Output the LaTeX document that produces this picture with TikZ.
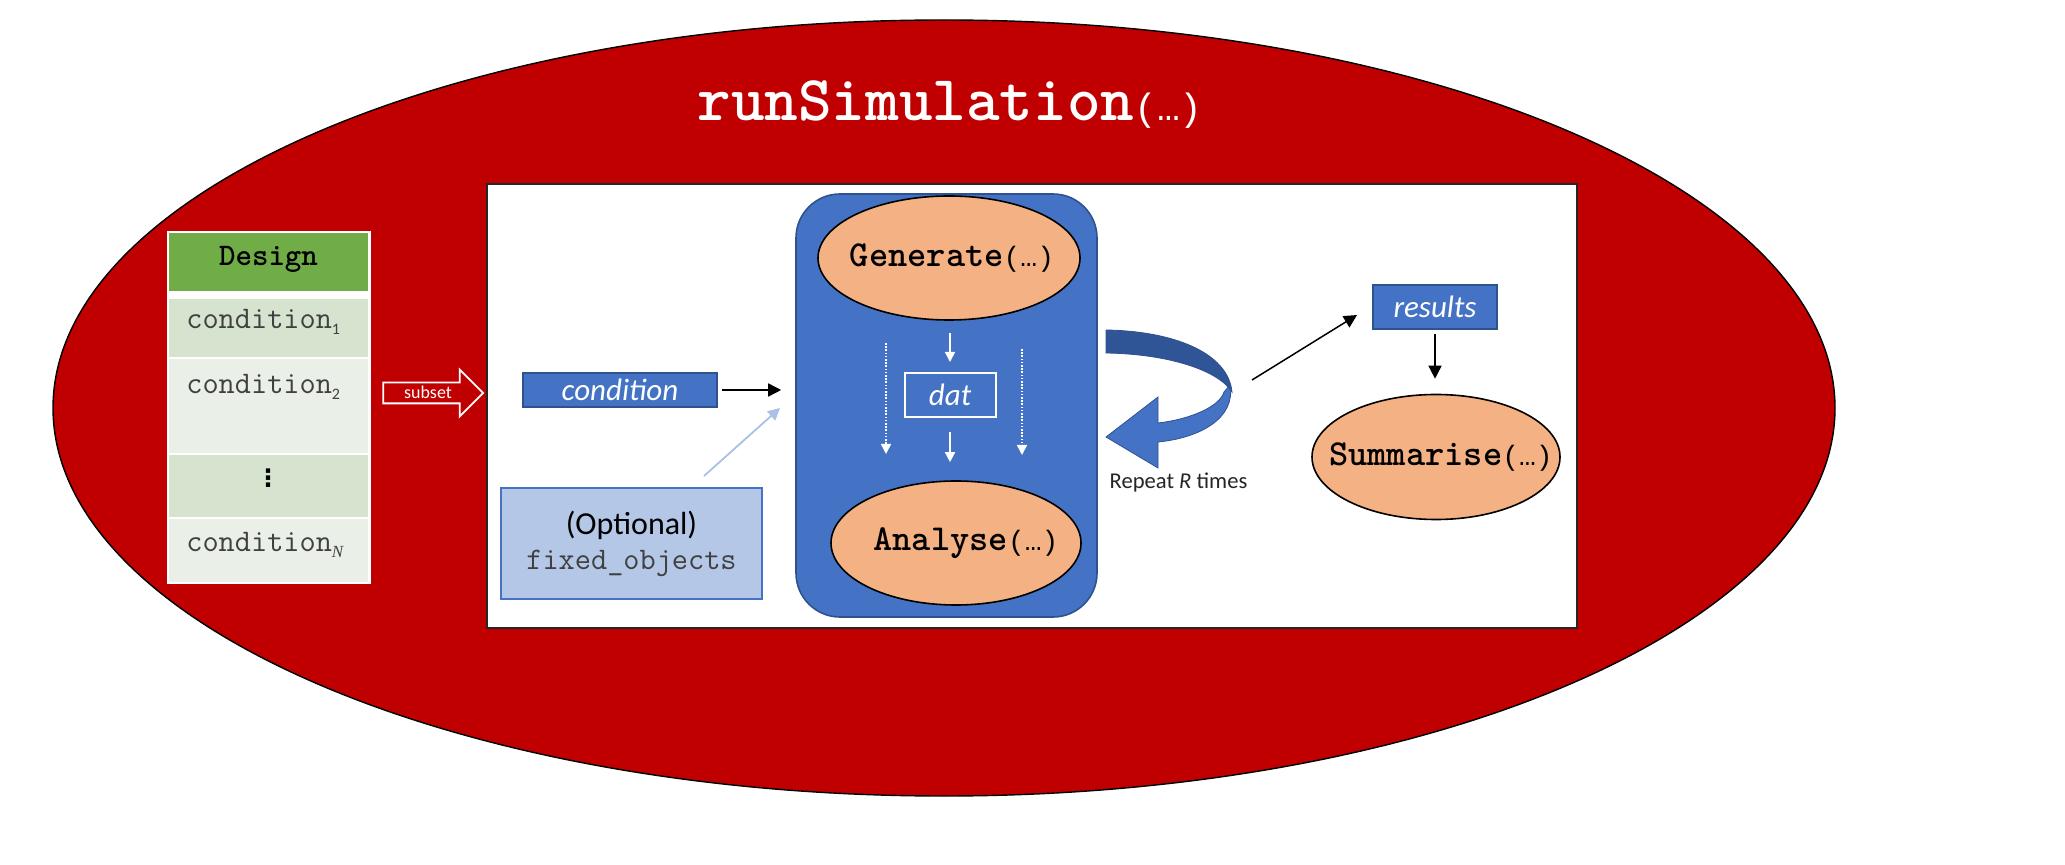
\documentclass[tikz,border=0pt]{standalone}
\usepackage{fontspec}
\setmainfont{Carlito}
\newfontfamily\monof{Liberation Mono}
\newfontfamily\calf{Carlito}
\newfontfamily\serf{Liberation Serif}
\newfontfamily\djvf{DejaVu Sans}
\usetikzlibrary{shapes.geometric,shapes.arrows,arrows.meta}
\definecolor{simred}{HTML}{C00000}
\definecolor{offblue}{HTML}{4472C4}
\definecolor{offblueline}{HTML}{2F528F}
\definecolor{darkband}{HTML}{2F5597}
\definecolor{peach}{HTML}{F4B183}
\definecolor{lightblue}{HTML}{B4C7E7}
\definecolor{arrowblue}{HTML}{A9C1E6}
\definecolor{dgreen}{HTML}{70AD47}
\definecolor{rowdark}{HTML}{D5E3CF}
\definecolor{rowlight}{HTML}{EAEFE8}
\definecolor{codegrey}{HTML}{404040}
\newcommand{\argell}{{\monof\mdseries\fontsize{14}{15}\selectfont(…)}}
\newcommand{\lowidx}[1]{\raisebox{-0.45ex}{\calf\fontsize{8}{8}\selectfont #1}}
\tikzset{
  rowbox/.style={rectangle, draw=white, line width=1pt, minimum width=100.5pt, inner sep=0, outer sep=0},
  condtext/.style={anchor=west, inner sep=0, text=codegrey, font=\ttfamily\fontsize{15.7}{17}\selectfont},
  bluebox/.style={rectangle, fill=offblue, draw=offblueline, line width=0.6pt, inner sep=0, text=white, font=\calf\itshape\fontsize{15.5}{17}\selectfont},
  func/.style={ellipse, fill=peach, draw=black, line width=0.8pt, inner sep=0, minimum height=62pt},
  functext/.style={inner sep=0, font=\ttfamily\bfseries\fontsize{18.3}{20}\selectfont},
  blackarrow/.style={-{Triangle[length=6.5pt,width=6.5pt]}, line width=0.75pt, black},
  whitearrow/.style={-{Triangle[length=5pt,width=5pt]}, line width=0.75pt, white},
  dotarrow/.style={whitearrow, dash pattern=on 0.8pt off 0.8pt},
}
\begin{document}
\begin{tikzpicture}[x=0.5pt,y=-0.5pt]
\useasboundingbox (0,0) rectangle (2065,865);
\fill[white] (0,0) rectangle (2065,865);
% outer red ellipse
\node[ellipse, draw=black, line width=0.7pt, fill=simred, minimum width=891pt, minimum height=388pt, inner sep=0, outer sep=0] (sim) at (944,408) {};
\node[text=white, inner sep=0, font=\ttfamily\bfseries\fontsize{32}{34}\selectfont] (title) at (950,105) {runSimulation{\monof\mdseries\fontsize{19}{20}\selectfont(…)}};
% design table
\node[fill=white, minimum width=102pt, minimum height=176.5pt, inner sep=0] (tablebg) at (268.5,407.5) {};
\node[rowbox, fill=dgreen, minimum height=30pt, font=\ttfamily\bfseries\fontsize{15.7}{17}\selectfont, text depth=4pt, text height=8pt] (design) at (268.5,262) {Design};
\node[rowbox, fill=rowdark, minimum height=30pt] (r1) at (268.5,328) {};
\node[rowbox, fill=rowlight, minimum height=48pt] (r2) at (268.5,406) {};
\node[rowbox, fill=rowdark, minimum height=32pt] (r3) at (268.5,486) {};
\node[rowbox, fill=rowlight, minimum height=32.5pt] (r4) at (268.5,550.5) {};
\node[condtext] (c1) at (186,322) {condition\lowidx{1}};
\node[condtext] (c2) at (186,387) {condition\lowidx{2}};
\node[inner sep=0, font=\djvf\bfseries\fontsize{12}{12}\selectfont] (cdots) at (268,478) {⋮};
\node[condtext] (cN) at (186,545) {condition\raisebox{-0.45ex}{\serf\itshape\fontsize{8.5}{8.5}\selectfont N}};
% subset arrow
\node[single arrow, draw=white, line width=0.9pt, fill=simred, text=white, font=\calf\fontsize{9}{9}\selectfont, minimum height=50pt, single arrow head extend=6.5pt, single arrow tip angle=90, inner xsep=2pt, inner ysep=1.5pt, text height=6.2pt, text depth=0.3pt] (subset) at (428,393) {subset};
% inner white box
\node[rectangle, draw=black!85, line width=0.8pt, fill=white, minimum width=545pt, minimum height=222pt, inner sep=0] (inner) at (1032,406) {};
% loop container
\node[rectangle, rounded corners=22pt, fill=offblue, draw=offblueline, line width=0.8pt, minimum width=150.5pt, minimum height=211.5pt, inner sep=0] (loop) at (946.5,405.5) {};
\node[func, minimum width=131pt, label={[functext, xshift=1.5pt]center:Generate\argell}] (gen) at (949,258) {};
\node[func, minimum width=125pt, label={[functext, xshift=5pt]center:Analyse\argell}] (ana) at (956,543) {};
\node[bluebox, draw=white, line width=1pt, minimum width=45.5pt, minimum height=22pt] (dat) at (950,395) {dat};
\draw[whitearrow, shorten <=6pt, shorten >=5pt] (dat.north |- gen.south) -- (dat.north);
\draw[whitearrow, shorten <=7pt, shorten >=9pt] (dat.south) -- (dat.south |- ana.north);
\coordinate (dla) at (886,343); \coordinate (dlb) at (886,454);
\coordinate (dra) at (1022,349); \coordinate (drb) at (1022,455);
\draw[dotarrow] (dla) -- (dlb);
\draw[dotarrow] (dra) -- (drb);
% condition
\node[bluebox, minimum width=97pt, minimum height=17pt] (cond) at (620,390) {condition};
\draw[blackarrow, shorten <=2pt, shorten >=7pt] (cond.east) -- (cond.east -| loop.west);
% optional
\node[rectangle, fill=lightblue, draw=offblue, line width=0.6pt, minimum width=130.5pt, minimum height=55.5pt, align=center, inner sep=0, font=\calf\fontsize{16}{17.5}\selectfont] (opt) at (631.5,543.5) {(Optional)\\{\ttfamily\fontsize{15.7}{17}\selectfont\color{codegrey}fixed\_objects}};
\coordinate (fa) at (704,476); \coordinate (fb) at (780,408);
\draw[-{Triangle[length=6pt,width=6pt]}, arrowblue, line width=0.9pt] (fa) -- (fb);
% curved repeat arrow
\filldraw[fill=offblue, draw=offblueline, line width=0.4pt] (1230,385) .. controls (1236,418) and (1200,438) .. (1158,442) -- (1158,468) -- (1106,437) -- (1158,397) -- (1158,423) .. controls (1192,419) and (1220,406) .. (1224,392) -- cycle;
\filldraw[fill=darkband, draw=offblueline, line width=0.4pt] (1106,330) .. controls (1172,331) and (1228,352) .. (1232,392) .. controls (1218,370) and (1168,354) .. (1106,353) -- cycle;
\node[inner sep=0, font=\calf\fontsize{11.3}{12}\selectfont, text=black!85] (rep) at (1178.5,483) {Repeat \textit{R} times};
% results
\coordinate (ra) at (1252,380); \coordinate (rb) at (1357,315);
\draw[blackarrow] (ra) -- (rb);
\node[bluebox, minimum width=62pt, minimum height=22pt] (res) at (1435,307) {results};
\node[func, minimum width=124pt, minimum height=62.5pt, label={[functext, xshift=2.5pt]center:Summarise\argell}] (sum) at (1436,457) {};
\draw[blackarrow, shorten <=2pt, shorten >=7.5pt] (res.south) -- (res.south |- sum.north);
\end{tikzpicture}
\end{document}
